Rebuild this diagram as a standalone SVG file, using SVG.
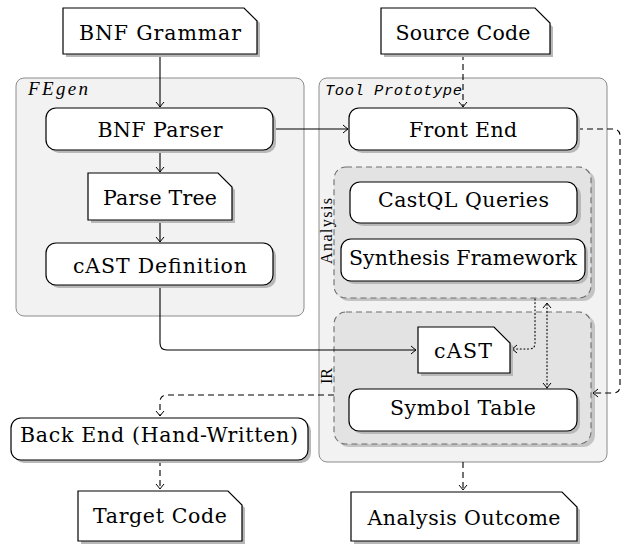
<svg xmlns="http://www.w3.org/2000/svg" width="624" height="544" viewBox="0 0 624 544">
<style>
.cont{fill:#f2f2f2;stroke:#8c8c8c;stroke-width:1}
.sub{fill:#e3e3e3;stroke:#6e6e6e;stroke-width:1.1;stroke-dasharray:6 4}
.subsh{fill:#c4c4c4}
.sh{fill:#b8b8b8}
.box{fill:#fff;stroke:#000;stroke-width:1.2}
.lbl{font-family:"DejaVu Serif","Liberation Serif",serif;font-size:20.5px;fill:#000;text-anchor:middle}
.small{font-family:"Liberation Serif","Times New Roman",serif;font-size:16px;fill:#000;text-anchor:middle}
.ttl{font-family:"Liberation Mono",monospace;font-style:italic;font-size:15.5px;fill:#000}
.ttl2{font-family:"Liberation Serif",serif;font-style:italic;font-size:19px;fill:#000}
.c{fill:none;stroke:#000;stroke-width:1.1;marker-end:url(#ah)}
.d{stroke-dasharray:6 4}
.o{stroke-dasharray:1 2.6;stroke-linecap:round}
</style>
<defs>
<marker id="ah" markerUnits="userSpaceOnUse" viewBox="-7 -6 9 12" refX="0" refY="0" markerWidth="9" markerHeight="12" orient="auto" overflow="visible">
<path d="M-5,-4 Q-1.5,-1 0,0 Q-1.5,1 -5,4" fill="none" stroke="#000" stroke-width="1" stroke-dasharray="none"/>
</marker>
<marker id="as" markerUnits="userSpaceOnUse" viewBox="-7 -6 9 12" refX="0" refY="0" markerWidth="9" markerHeight="12" orient="auto-start-reverse" overflow="visible">
<path d="M-5,-4 Q-1.5,-1 0,0 Q-1.5,1 -5,4" fill="none" stroke="#000" stroke-width="1" stroke-dasharray="none"/>
</marker>
</defs>

<g id="fegen">
<rect class="cont" x="16" y="78" width="288" height="238" rx="8"/>
<text class="ttl2" x="28" y="95" textLength="60">FEgen</text>
</g>
<g id="tool-prototype">
<rect class="cont" x="319" y="78" width="288" height="384" rx="8"/>
<text class="ttl" x="325" y="95" textLength="137">Tool Prototype</text>
</g>
<g id="analysis">
<rect class="subsh" x="337" y="170" width="258" height="131" rx="12"/>
<rect class="sub" x="334" y="167" width="257" height="131" rx="12"/>
<text class="small" transform="translate(332,231) rotate(-90)" textLength="66">Analysis</text>
</g>
<g id="ir">
<rect class="subsh" x="337" y="315" width="258" height="132" rx="12"/>
<rect class="sub" x="334" y="312" width="257" height="132" rx="12"/>
<text class="small" transform="translate(332,376) rotate(-90)">IR</text>
</g>

<g id="connectors">
<path class="c" d="M160,54 V107"/>
<path class="c" d="M160,150 V172"/>
<path class="c" d="M160,220 V242"/>
<path class="c" d="M160,285 V343 Q160,350 167,350 H416"/>
<path class="c" d="M273,129 H348"/>
<path class="c d" d="M463,54 V107"/>
<path class="c d" d="M577,129 H613 Q620,129 620,136 V386 Q620,393 613,393 H593"/>
<path class="c d" d="M334,395 H167 Q160,395 160,402 V416"/>
<path class="c d" d="M160,460 V489"/>
<path class="c d" d="M463,462 V490"/>
<path class="c o" d="M535,299 V343 Q535,349 529,349 H512"/>
<path class="c o" d="M547,388 V303" marker-start="url(#as)"/>
</g>

<g id="bnf-grammar">
<polygon class="sh" points="66,11 248,11 260,23 260,57 66,57"/>
<polygon class="box" points="63,8 244,8 257,21 257,54 63,54"/>
<text class="lbl" x="160" y="40" textLength="162">BNF Grammar</text>
</g>
<g id="source-code">
<polygon class="sh" points="384,11 537,11 553,27 553,57 384,57"/>
<polygon class="box" points="381,8 535,8 550,23 550,54 381,54"/>
<text class="lbl" x="463" y="40" textLength="135">Source Code</text>
</g>
<g id="bnf-parser">
<rect class="sh" x="49" y="111" width="227" height="42" rx="10"/>
<rect class="box" x="46" y="108" width="227" height="42" rx="10"/>
<text class="lbl" x="160" y="137" textLength="125">BNF Parser</text>
</g>
<g id="front-end">
<rect class="sh" x="352" y="111" width="228" height="42" rx="10"/>
<rect class="box" x="349" y="108" width="228" height="42" rx="10"/>
<text class="lbl" x="463" y="137" textLength="108">Front End</text>
</g>
<g id="parse-tree">
<polygon class="sh" points="91,176 221,176 235,190 235,223 91,223"/>
<polygon class="box" points="88,173 218,173 232,187 232,220 88,220"/>
<text class="lbl" x="160" y="205" textLength="114">Parse Tree</text>
</g>
<g id="cast-definition">
<rect class="sh" x="49" y="246" width="227" height="42" rx="10"/>
<rect class="box" x="46" y="243" width="227" height="42" rx="10"/>
<text class="lbl" x="160" y="273" textLength="174">cAST Definition</text>
</g>
<g id="castql-queries">
<rect class="sh" x="353" y="185" width="228" height="41" rx="10"/>
<rect class="box" x="350" y="182" width="227" height="41" rx="10"/>
<text class="lbl" x="463.5" y="207" textLength="171">CastQL Queries</text>
</g>
<g id="synthesis-framework">
<rect class="sh" x="344" y="242" width="244" height="42" rx="10"/>
<rect class="box" x="341" y="239" width="244" height="42" rx="10"/>
<text class="lbl" x="463" y="265" textLength="228">Synthesis Framework</text>
</g>
<g id="cast">
<polygon class="sh" points="421,330 497,330 513,346 513,376 421,376"/>
<polygon class="box" points="418,327 494,327 510,343 510,373 418,373"/>
<text class="lbl" x="463" y="358" textLength="58">cAST</text>
</g>
<g id="symbol-table">
<rect class="sh" x="352" y="392" width="228" height="42" rx="10"/>
<rect class="box" x="349" y="389" width="228" height="42" rx="10"/>
<text class="lbl" x="463" y="415" textLength="146">Symbol Table</text>
</g>
<g id="back-end">
<rect class="sh" x="14" y="421" width="297" height="42" rx="10"/>
<rect class="box" x="11" y="418" width="297" height="42" rx="10"/>
<text class="lbl" x="159" y="442" textLength="278">Back End (Hand-Written)</text>
</g>
<g id="target-code">
<polygon class="sh" points="81,494 231,494 245,508 245,544 81,544"/>
<polygon class="box" points="78,491 228,491 242,505 242,541 78,541"/>
<text class="lbl" x="160" y="523" textLength="134">Target Code</text>
</g>
<g id="analysis-outcome">
<polygon class="sh" points="354,495 565,495 580,510 580,544 354,544"/>
<polygon class="box" points="351,492 562,492 577,507 577,541 351,541"/>
<text class="lbl" x="464" y="525" textLength="193">Analysis Outcome</text>
</g>
</svg>
